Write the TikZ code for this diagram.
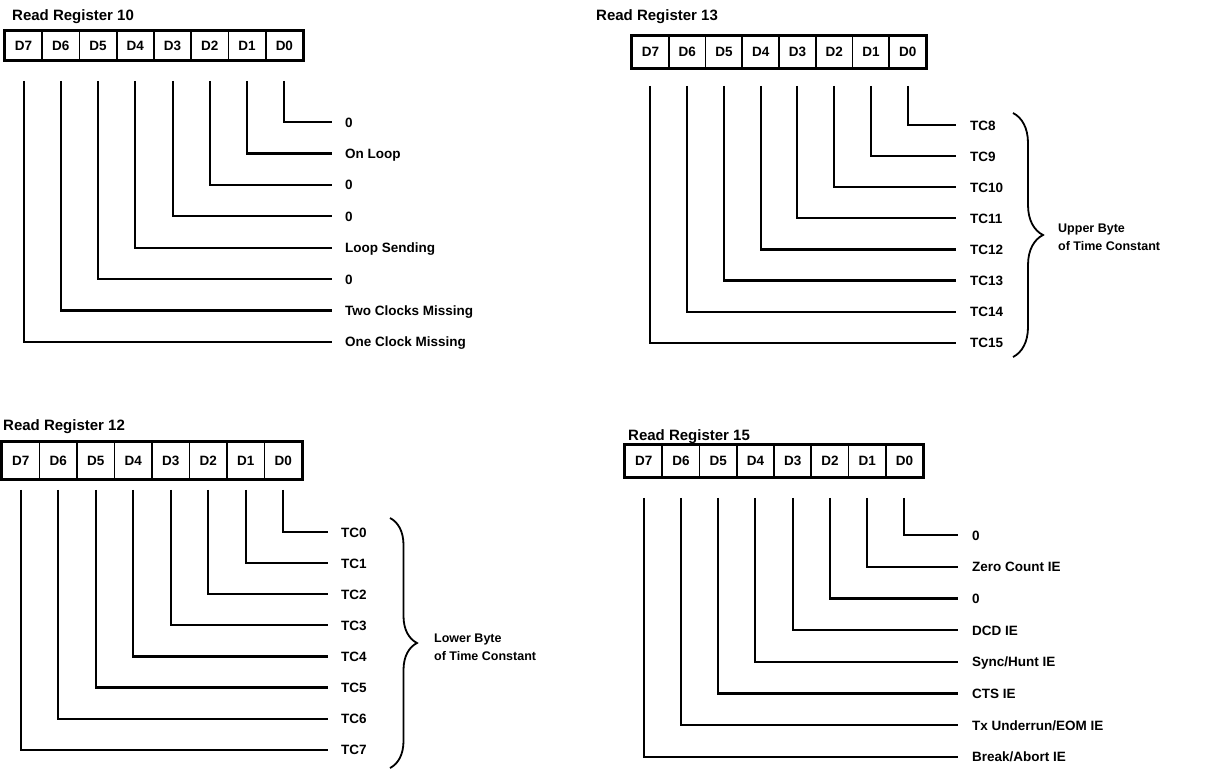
\documentclass[tikz,border=0pt]{standalone}
\usepackage{fontspec}
\setmainfont{Liberation Sans}
\usetikzlibrary{decorations.pathreplacing}

\begin{document}
\begin{tikzpicture}[x=1pt, y=-1pt,
    cell/.style={draw, line width=1.6pt, minimum width=37.25pt, minimum height=30pt, inner sep=0pt, font=\bfseries\fontsize{13.5}{15}\selectfont},
    frame/.style={line width=3pt},
    title/.style={anchor=west, inner sep=0pt, font=\bfseries\fontsize{15}{17}\selectfont},
    bitlabel/.style={anchor=west, inner sep=0pt, text height=10pt, text depth=0pt, font=\bfseries\fontsize{13.5}{16}\selectfont},
    wire/.style={line width=2.2pt},
    bytebrace/.style={line width=1.8pt, decorate, decoration={brace, amplitude=#1}},
    bracetext/.style={anchor=west, align=left, inner sep=0pt, font=\bfseries\fontsize{12.5}{18}\selectfont}]
  \path[use as bounding box, fill=white] (0,0) rectangle (1212,769);

  % Read Register 10
  \node[title] (t10) at (12,17) {Read Register 10};
  \foreach \b in {0,...,7}
    \node[cell, minimum height=29pt] (r10d\b) at ({5+37.25*(7.5-\b)}, 45.5) {D\b};
  \draw[frame] (r10d7.north west) rectangle (r10d0.south east);
  \foreach \b/\txt in {0/0, 1/On Loop, 2/0, 3/0, 4/Loop Sending, 5/0, 6/Two Clocks Missing, 7/One Clock Missing} {
    \node[bitlabel] (r10l\b) at (345, {122+31.4*\b}) {\txt};
    \draw[wire] ([yshift=-20pt]r10d\b.south) |- ([xshift=-13pt]r10l\b.west);
  }

  % Read Register 13
  \node[title] (t13) at (596,17) {Read Register 13};
  \foreach \b in {0,...,7}
    \node[cell, minimum width=36.75pt, minimum height=32pt] (r13d\b) at ({632+36.75*(7.5-\b)}, 52) {D\b};
  \draw[frame] (r13d7.north west) rectangle (r13d0.south east);
  \foreach \b [evaluate=\b as \tc using int(\b+8)] in {0,...,7} {
    \node[bitlabel] (r13l\b) at (970, {125+31.1*\b}) {TC\tc};
    \draw[wire] ([yshift=-17pt]r13d\b.south) |- ([xshift=-14pt]r13l\b.west);
  }
  \coordinate (b13top) at (1013,113);
  \coordinate (b13bot) at (1013,357);
  \draw[bytebrace=30pt] (b13top) -- (b13bot);
  \node[bracetext] (u13) at (1058,237) {Upper Byte\\of Time Constant};

  % Read Register 12
  \node[title] (t12) at (3,427) {Read Register 12};
  \foreach \b in {0,...,7}
    \node[cell, minimum width=37.5pt, minimum height=37pt] (r12d\b) at ({2+37.5*(7.5-\b)}, 460.5) {D\b};
  \draw[frame] (r12d7.north west) rectangle (r12d0.south east);
  \foreach \b in {0,...,7} {
    \node[bitlabel] (r12l\b) at (341, {532+31.1*\b}) {TC\b};
    \draw[wire] ([yshift=-10pt]r12d\b.south) |- ([xshift=-13pt]r12l\b.west);
  }
  \coordinate (b12top) at (390,518);
  \coordinate (b12bot) at (390,768);
  \draw[bytebrace=27pt] (b12top) -- (b12bot);
  \node[bracetext] (u12) at (434,647) {Lower Byte\\of Time Constant};

  % Read Register 15
  \node[title] (t15) at (628,437) {Read Register 15};
  \foreach \b in {0,...,7}
    \node[cell, minimum height=32pt] (r15d\b) at ({625+37.25*(7.5-\b)}, 461) {D\b};
  \draw[frame] (r15d7.north west) rectangle (r15d0.south east);
  \foreach \b/\txt in {0/0, 1/Zero Count IE, 2/0, 3/DCD IE, 4/{Sync/Hunt IE}, 5/CTS IE, 6/{Tx Underrun/EOM IE}, 7/{Break/Abort IE}} {
    \node[bitlabel] (r15l\b) at (972, {535+31.7*\b}) {\txt};
    \draw[wire] ([yshift=-20pt]r15d\b.south) |- ([xshift=-14pt]r15l\b.west);
  }
\end{tikzpicture}
\end{document}
